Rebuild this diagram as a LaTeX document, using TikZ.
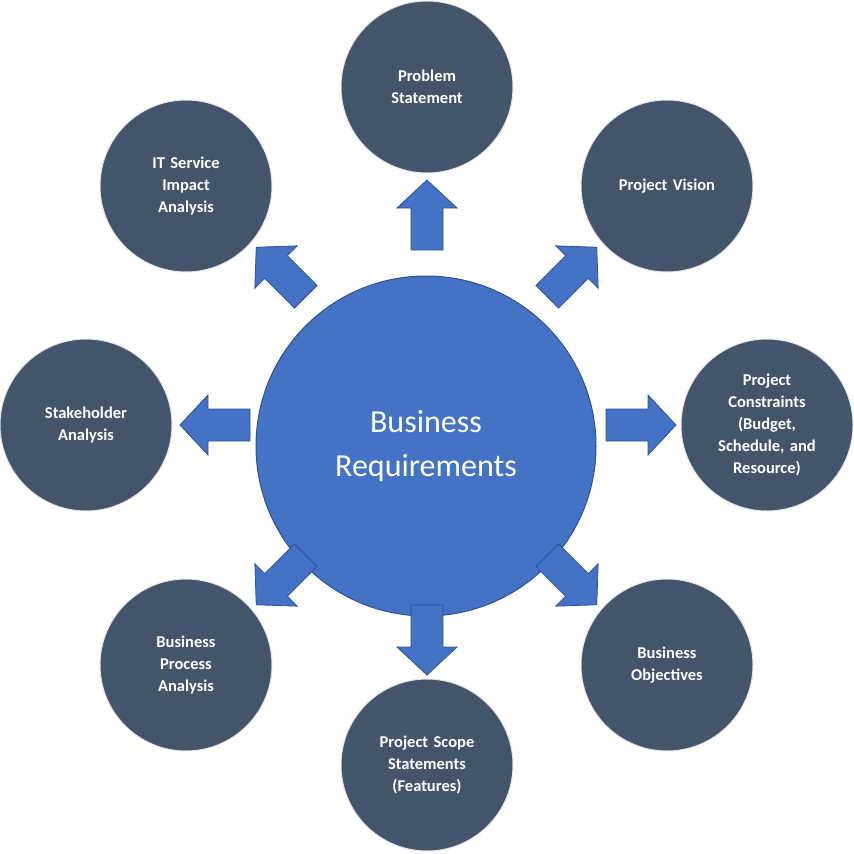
\documentclass[tikz,border=0pt]{standalone}
\usepackage{fontspec}
\setmainfont{Carlito}
\definecolor{cblue}{HTML}{4472C4}
\definecolor{cdark}{HTML}{44546A}
\definecolor{cedge}{HTML}{2F528F}
\begin{document}
\begin{tikzpicture}[x=1pt,y=-1pt,
 outer/.style={circle,fill=cdark,draw=white!85!cdark,line width=1pt,minimum size=172pt,inner sep=0pt,text=white,align=center,text width=110pt,font=\fontsize{16.5}{22}\selectfont\bfseries},
 arr/.style={fill=cblue,draw=cedge,line width=0.8pt}]
\useasboundingbox (0,0) rectangle (854,854);
\node[circle,fill=cblue,draw=cedge,line width=1pt,minimum size=340pt,text=white,align=center,font=\fontsize{32}{44}\selectfont] (c) at (426,446) {Business\\Requirements};
\node[outer] (n) at (427,87) {Problem\\Statement};
\node[outer] (ne) at (667,186) {Project Vision};
\node[outer] (e) at (767,425) {Project\\Constraints\\(Budget,\\Schedule, and\\Resource)};
\node[outer] (se) at (667,665) {Business\\Objectives};
\node[outer] (s) at (427,765) {Project Scope\\Statements\\(Features)};
\node[outer] (sw) at (186,665) {Business\\Process\\Analysis};
\node[outer] (w) at (86,425) {Stakeholder\\Analysis};
\node[outer] (nw) at (186,186) {IT Service\\Impact\\Analysis};
\foreach \px/\py/\ang in {427/215/90, 427/640/-90, 641/425/0, 215/425/180, 572/272/45, 281/272/135, 572/580/-45, 281/580/-135}{
 \draw[arr,shift={(\px,\py)},rotate=\ang] (-35,-16) -- (7,-16) -- (7,-30) -- (35,0) -- (7,30) -- (7,16) -- (-35,16) -- cycle;
}
\end{tikzpicture}
\end{document}
